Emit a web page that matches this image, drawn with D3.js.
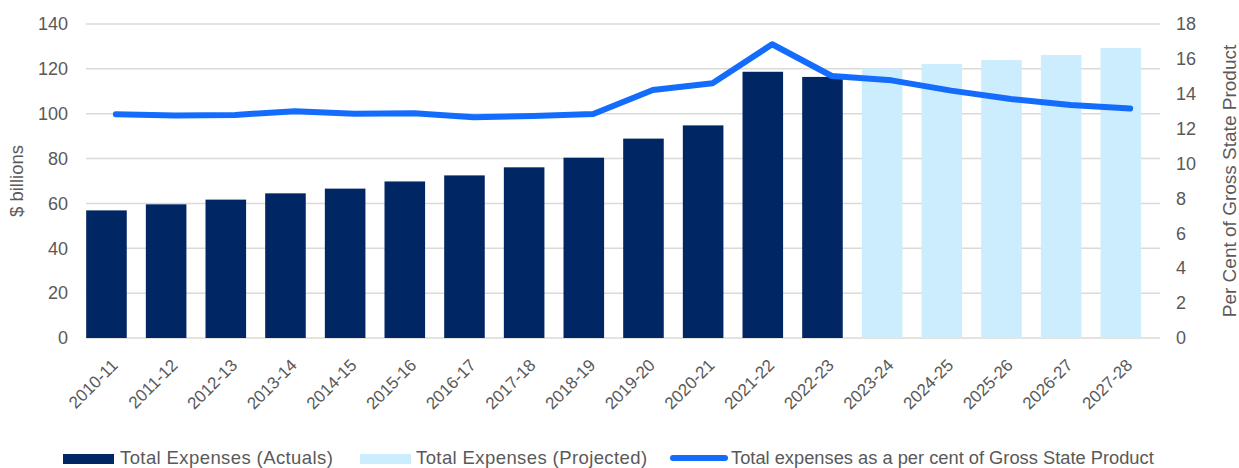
<!DOCTYPE html>
<html>
<head>
<meta charset="utf-8">
<script src="https://cdn.jsdelivr.net/npm/d3@7"></script>
<style>
  html, body { margin: 0; padding: 0; background: #fff; }
  svg { display: block; }
  text { font-family: "Liberation Sans", Arial, sans-serif; fill: #595959; }
</style>
</head>
<body>
<svg id="chart" width="1239" height="468"></svg>
<script>
// ---- data ----
const categories = ["2010-11","2011-12","2012-13","2013-14","2014-15","2015-16","2016-17","2017-18","2018-19","2019-20","2020-21","2021-22","2022-23","2023-24","2024-25","2025-26","2026-27","2027-28"];
const actuals = [56.9, 59.6, 61.7, 64.5, 66.6, 69.8, 72.5, 76.1, 80.4, 88.9, 94.8, 118.7, 116.4, null, null, null, null, null];
const projected = [null, null, null, null, null, null, null, null, null, null, null, null, null, 120.2, 122.2, 123.9, 126.2, 129.3];
const pctGSP = [12.83, 12.75, 12.79, 13.0, 12.86, 12.88, 12.65, 12.73, 12.84, 14.22, 14.6, 16.84, 15.02, 14.77, 14.18, 13.7, 13.36, 13.15];
const leftTicks = [0, 20, 40, 60, 80, 100, 120, 140];
const rightTicks = [0, 2, 4, 6, 8, 10, 12, 14, 16, 18];
const seriesNames = ["Total Expenses (Actuals)", "Total Expenses (Projected)", "Total expenses as a per cent of Gross State Product"];
const leftTitle = "$ billions";
const rightTitle = "Per Cent of Gross State Product";

// ---- style ----
const navy = "#002664", light = "#cbedfd", blue = "#146cfd", grid = "#dcdad5";
const plot = { left: 86, right: 1160, top: 24, bottom: 338 };

const svg = d3.select("#chart");

const x = d3.scaleBand().domain(categories).range([plot.left, plot.right]).padding(0);
const step = x.step();
const barW = step * 0.68;
const barShift = -step * 0.157;
const cx = c => x(c) + step / 2;

const yL = d3.scaleLinear().domain([0, 140]).range([plot.bottom, plot.top]);
const yR = d3.scaleLinear().domain([0, 18]).range([plot.bottom, plot.top]);

// gridlines
svg.append("g").selectAll("line").data(leftTicks).join("line")
  .attr("x1", plot.left).attr("x2", plot.right)
  .attr("y1", d => yL(d)).attr("y2", d => yL(d))
  .attr("stroke", grid).attr("stroke-width", 1.5);

// left axis labels
const gL = svg.append("g")
  .attr("transform", `translate(${plot.left - 18},0)`)
  .call(d3.axisLeft(yL).tickValues(leftTicks).tickSize(0).tickPadding(0));
gL.select(".domain").remove();
gL.selectAll("text").style("font-size", "18px").style("fill", "#595959")
  .style("font-family", "Liberation Sans, Arial, sans-serif");

// right axis labels
const gR = svg.append("g")
  .attr("transform", `translate(${plot.right + 16},0)`)
  .call(d3.axisRight(yR).tickValues(rightTicks).tickSize(0).tickPadding(0));
gR.select(".domain").remove();
gR.selectAll("text").style("font-size", "18px").style("fill", "#595959")
  .style("font-family", "Liberation Sans, Arial, sans-serif");

// bars
const barData = categories.map((c, i) => ({ c, a: actuals[i], p: projected[i] }));
svg.append("g").selectAll("rect.a").data(barData.filter(d => d.a != null)).join("rect")
  .attr("x", d => cx(d.c) + barShift - barW / 2)
  .attr("width", barW)
  .attr("y", d => yL(d.a))
  .attr("height", d => yL(0) - yL(d.a))
  .attr("fill", navy);
svg.append("g").selectAll("rect.p").data(barData.filter(d => d.p != null)).join("rect")
  .attr("x", d => cx(d.c) + barShift - barW / 2)
  .attr("width", barW)
  .attr("y", d => yL(d.p))
  .attr("height", d => yL(0) - yL(d.p))
  .attr("fill", light);

// line
const line = d3.line().x((d, i) => cx(categories[i])).y(d => yR(d));
svg.append("path").datum(pctGSP)
  .attr("d", line)
  .attr("fill", "none").attr("stroke", blue).attr("stroke-width", 6)
  .attr("stroke-linejoin", "round").attr("stroke-linecap", "round");

// category labels
svg.append("g").selectAll("text").data(categories).join("text")
  .attr("transform", d => `translate(${cx(d) - 1},362) rotate(-45)`)
  .attr("text-anchor", "end").attr("dy", "0.35em")
  .style("font-size", "17px")
  .text(d => d);

// axis titles
svg.append("text")
  .attr("transform", `translate(23,${(plot.top + plot.bottom) / 2}) rotate(-90)`)
  .attr("text-anchor", "middle").style("font-size", "18.5px").text(leftTitle);
svg.append("text")
  .attr("transform", `translate(1236,${(plot.top + plot.bottom) / 2}) rotate(-90)`)
  .attr("text-anchor", "middle").style("font-size", "19px").text(rightTitle);

// legend
const lg = svg.append("g");
const legendX = [63, 360, 670];
const lfs = "18.5px";
lg.append("rect").attr("x", legendX[0]).attr("y", 454).attr("width", 51).attr("height", 10).attr("fill", navy);
lg.append("text").attr("x", legendX[0] + 57).attr("y", 464).style("font-size", lfs).style("letter-spacing", "0.4px").text(seriesNames[0]);
lg.append("rect").attr("x", legendX[1]).attr("y", 454).attr("width", 51).attr("height", 10).attr("fill", light);
lg.append("text").attr("x", legendX[1] + 56).attr("y", 464).style("font-size", lfs).style("letter-spacing", "0.4px").text(seriesNames[1]);
lg.append("line").attr("x1", legendX[2] + 3).attr("x2", legendX[2] + 55).attr("y1", 458).attr("y2", 458)
  .attr("stroke", blue).attr("stroke-width", 6).attr("stroke-linecap", "round");
lg.append("text").attr("x", legendX[2] + 61).attr("y", 464).style("font-size", "18.3px").text(seriesNames[2]);
</script>
</body>
</html>
